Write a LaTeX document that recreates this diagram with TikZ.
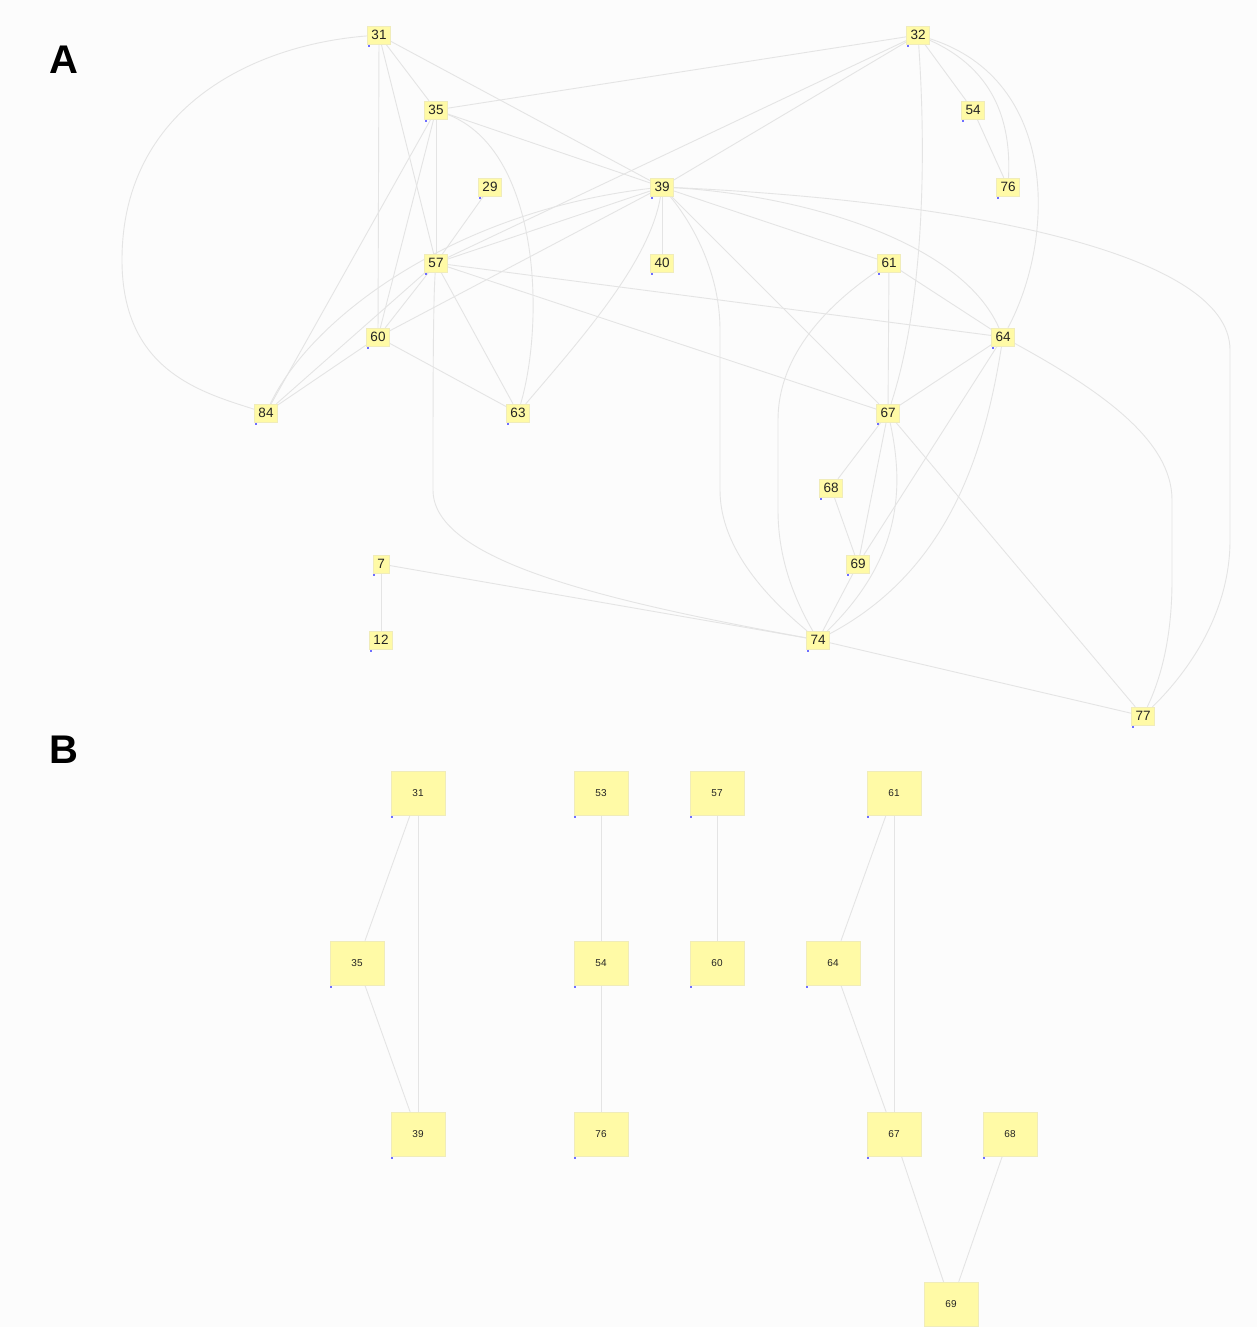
\documentclass[tikz,border=0pt]{standalone}
\usepackage{fontspec}
\setmainfont{Liberation Sans}
\definecolor{bgcol}{RGB}{252,252,252}
\definecolor{nodefill}{RGB}{255,250,166}
\definecolor{nodeline}{RGB}{240,236,186}
\definecolor{edgecol}{RGB}{228,228,228}
\definecolor{textcol}{RGB}{35,35,35}
\definecolor{cornerdot}{RGB}{110,110,255}
\pgfdeclarelayer{paper}
\pgfdeclarelayer{links}
\pgfsetlayers{paper,links,main}
\tikzset{
  edge/.style={draw=edgecol, line width=0.9pt},
  gnode/.style={fill=nodefill, draw=nodeline, line width=0.4pt, text=textcol},
  nodeA/.style={gnode, inner xsep=4pt, inner ysep=0pt, minimum height=18pt,
                font=\fontsize{13.5}{13.5}\selectfont},
  nodeB/.style={gnode, inner sep=0pt, minimum width=54pt, minimum height=44pt,
                font=\fontsize{10}{10}\selectfont},
  panel/.style={font=\bfseries\fontsize{40}{40}\selectfont, text=black}
}
\begin{document}
\begin{tikzpicture}[x=1pt,y=-1pt]
\begin{pgfonlayer}{paper}
\fill[bgcol] (0,0) rectangle (1257,1327);
\end{pgfonlayer}
\useasboundingbox (0,0) rectangle (1257,1327);

% panel labels
\node[panel] (labA) at (64,60) {A};
\node[panel] (labB) at (64,750) {B};

% ---------- panel A: nodes ----------
\foreach \n/\x/\y/\t in {a31/379/35/31, a32/918/35/32, a35/436/110/35,
  a54/973/110/54, a29/490/187/29, a39/662/187/39, a76/1008/187/76,
  a57/436/263/57, a40/662/263/40, a61/889/263/61, a60/378/337/60,
  a64/1003/337/64, a84/266/413/84, a63/518/413/63, a67/888/413/67,
  a68/831/488/68, a7/381/564/7, a69/858/564/69, a12/381/640/12,
  a74/818/640/74, a77/1143/716/77}
  \node[nodeA] (\n) at (\x,\y) {\t};

% ---------- panel B: nodes ----------
\foreach \n/\x/\y/\t in {b31/418/793/31, b53/601/793/53, b57/717/793/57,
  b61/894/793/61, b35/357/963/35, b54/601/963/54, b60/717/963/60,
  b64/833/963/64, b39/418/1134/39, b76/601/1134/76, b67/894/1134/67,
  b68/1010/1134/68, b69/951/1304/69}
  \node[nodeB] (\n) at (\x,\y) {\t};

% small corner markers at the lower left of every node
\foreach \n in {a31,a32,a35,a54,a29,a39,a76,a57,a40,a61,a60,a64,a84,a63,
  a67,a68,a7,a69,a12,a74,a77,b31,b53,b57,b61,b35,b54,b60,b64,b39,b76,
  b67,b68,b69}
  \fill[cornerdot] (\n.south west) ++(0.4,0.6) rectangle ++(2,2);

\begin{pgfonlayer}{links}
% ---------- panel A: straight edges ----------
\foreach \u/\v in {a31/a35, a31/a57, a31/a60, a31/a39, a32/a35, a32/a39,
  a32/a57, a32/a54, a54/a76, a35/a39, a35/a57, a35/a60, a35/a84, a29/a57,
  a39/a57, a39/a60, a39/a40, a39/a61, a39/a67, a57/a60, a57/a84, a57/a63,
  a57/a64, a57/a67, a60/a84, a60/a63, a61/a67, a61/a64, a64/a67, a64/a69,
  a67/a68, a67/a69, a67/a77, a68/a69, a69/a74, a7/a12, a7/a74, a74/a77}
  \draw[edge] (\u) -- (\v);

% ---------- panel A: curved edges ----------
\draw[edge] (a31) .. controls (250,45) and (122,110) .. (122,260)
                  .. controls (122,370) and (200,392) .. (a84);
\draw[edge] (a84) .. controls (310,320) and (450,212) .. (a39);
\draw[edge] (a35) .. controls (540,150) and (545,320) .. (a63);
\draw[edge] (a39) .. controls (650,262) and (580,340) .. (a63);
\draw[edge] (a39) .. controls (690,220) and (720,270) .. (720,330)
                  -- (720,490) .. controls (720,550) and (770,600) .. (a74);
\draw[edge] (a39) .. controls (800,195) and (960,240) .. (a64);
\draw[edge] (a39) .. controls (950,200) and (1230,250) .. (1230,350)
                  -- (1230,540) .. controls (1230,620) and (1180,680) .. (a77);
\draw[edge] (a57) .. controls (433,300) and (433,400) .. (433,490)
                  .. controls (433,560) and (600,600) .. (a74);
\draw[edge] (a61) .. controls (820,310) and (778,360) .. (778,420)
                  -- (778,510) .. controls (778,560) and (795,600) .. (a74);
\draw[edge] (a32) .. controls (1060,80) and (1055,240) .. (a64);
\draw[edge] (a32) .. controls (985,65) and (1012,110) .. (a76);
\draw[edge] (a32) .. controls (926,150) and (925,300) .. (a67);
\draw[edge] (a64) .. controls (985,450) and (950,570) .. (a74);
\draw[edge] (a64) .. controls (1100,390) and (1172,440) .. (1172,500)
                  -- (1172,580) .. controls (1172,640) and (1160,680) .. (a77);
\draw[edge] (a67) .. controls (905,490) and (900,560) .. (a74);

% ---------- panel B: edges ----------
\foreach \u/\v in {b31/b35, b31/b39, b35/b39, b53/b54, b54/b76, b57/b60,
  b61/b64, b61/b67, b64/b67, b67/b69, b68/b69}
  \draw[edge] (\u) -- (\v);
\end{pgfonlayer}
\end{tikzpicture}
\end{document}
